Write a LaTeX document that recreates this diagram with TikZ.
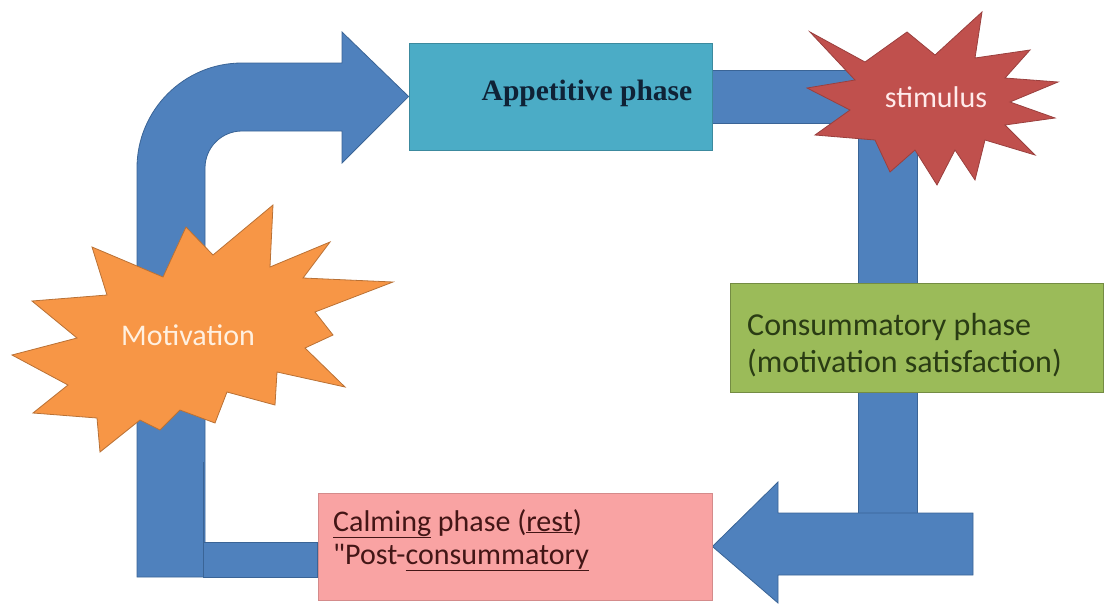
\documentclass[tikz,border=0pt]{standalone}
\usepackage{fontspec}
\setmainfont{Liberation Serif}
\newfontfamily\calibfont{Carlito}
\usetikzlibrary{backgrounds}
\definecolor{barblue}{HTML}{4F81BD}
\definecolor{barline}{HTML}{3A6496}
\definecolor{appcyan}{HTML}{4BACC6}
\definecolor{appnavy}{HTML}{0F2236}
\definecolor{stimred}{HTML}{C0504D}
\definecolor{motorange}{HTML}{F79646}
\definecolor{congreen}{HTML}{9BBB59}
\definecolor{consdark}{HTML}{2A3C14}
\definecolor{calmpink}{HTML}{F9A3A3}
\definecolor{calmdark}{HTML}{431616}
\begin{document}
\begin{tikzpicture}[x=1pt,y=-1pt,
    bluebar/.style={fill=barblue,draw=barline,line width=0.8pt},
    phasebox/.style={draw,line width=0.8pt,inner sep=0pt},
    burst/.style={line width=0.8pt,line join=miter},
    calib/.style={inner sep=0pt,font=\calibfont\fontsize{#1}{#1}\selectfont}]
    \useasboundingbox (0,0) rectangle (1107,605);
    %% Phase boxes
    \node[phasebox,fill=appcyan,draw=appcyan!80!black,
        minimum width=303pt,minimum height=107pt] (app) at (560.5,96.5) {};
    \node[anchor=base,inner sep=0pt,text=appnavy,
        font=\bfseries\fontsize{29.5}{32}\selectfont] (apptext) at (587,100)
        {Appetitive phase};
    \node[phasebox,fill=congreen,draw=congreen!75!black,
        minimum width=373pt,minimum height=109pt] (cons) at (916.5,337.5) {};
    \node[anchor=west,align=left,inner sep=0pt,text=consdark,
        font=\calibfont\fontsize{32}{37}\selectfont] (constext) at (747,345)
        {Consummatory phase\\(motivation satisfaction)};
    \node[phasebox,fill=calmpink,draw=calmpink!85!black,
        minimum width=394pt,minimum height=107pt] (calm) at (515,546.5) {};
    \node[anchor=west,align=left,inner sep=0pt,text=calmdark,
        font=\calibfont\fontsize{30}{33}\selectfont] (calmtext) at (333,540)
        {\underline{Calming} phase (\underline{rest})\\"Post-\underline{consummatory}};
    %% Bursts
    \draw[burst,fill=stimred,draw=stimred!80!black] plot coordinates {
        (810,32) (865,62) (907,32) (935,55) (982,12) (975,58) (1030,50)
        (1005,78) (1058,82) (1010,102) (1055,118) (1005,125) (1035,155)
        (985,140) (975,180) (955,150) (937,185) (915,150) (890,172)
        (875,140) (815,135) (850,110) (807,88) (855,80)} -- cycle;
    \node[calib=30,anchor=base,text=red!8] (stim) at (936,107) {stimulus};
    \draw[burst,fill=motorange,draw=motorange!75!black] plot coordinates {
        (273,205) (270,267) (330,242) (303,278) (393,282) (315,312)
        (333,335) (305,348) (345,387) (277,372) (275,405) (227,392)
        (215,423) (180,410) (160,430) (140,420) (100,452) (97,418)
        (33,413) (68,385) (12,355) (77,338) (32,301) (107,295)
        (92,247) (163,277) (186,227) (213,255)} -- cycle;
    \node[calib=30,anchor=base,text=orange!12] (motiv) at (188,345) {Motivation};
    %% Block arrows
    \begin{scope}[on background layer]
        \draw[bluebar] (137,577) -- (137,168)
            arc[start angle=180,end angle=270,radius=105] -- (342,63)
            -- (342,32) -- (app.west) -- (342,163) -- (342,131) -- (242,131)
            arc[start angle=270,end angle=180,radius=37] -- (205,577) -- cycle;
        \draw[bluebar] (203,542) rectangle (calm.west |- 0,577);
        \draw[barline,line width=0.8pt] (203,462) -- (203,542);
        \draw[bluebar] (app.east |- 0,70) -- (917,70) -- (917,513)
            -- (858,513) -- (858,123) -- (app.east |- 0,123) -- cycle;
        \draw[bluebar] (973,513) -- (778,513) -- (778,482) -- (calm.east)
            -- (778,603) -- (778,575) -- (973,575) -- cycle;
    \end{scope}
\end{tikzpicture}
\end{document}
